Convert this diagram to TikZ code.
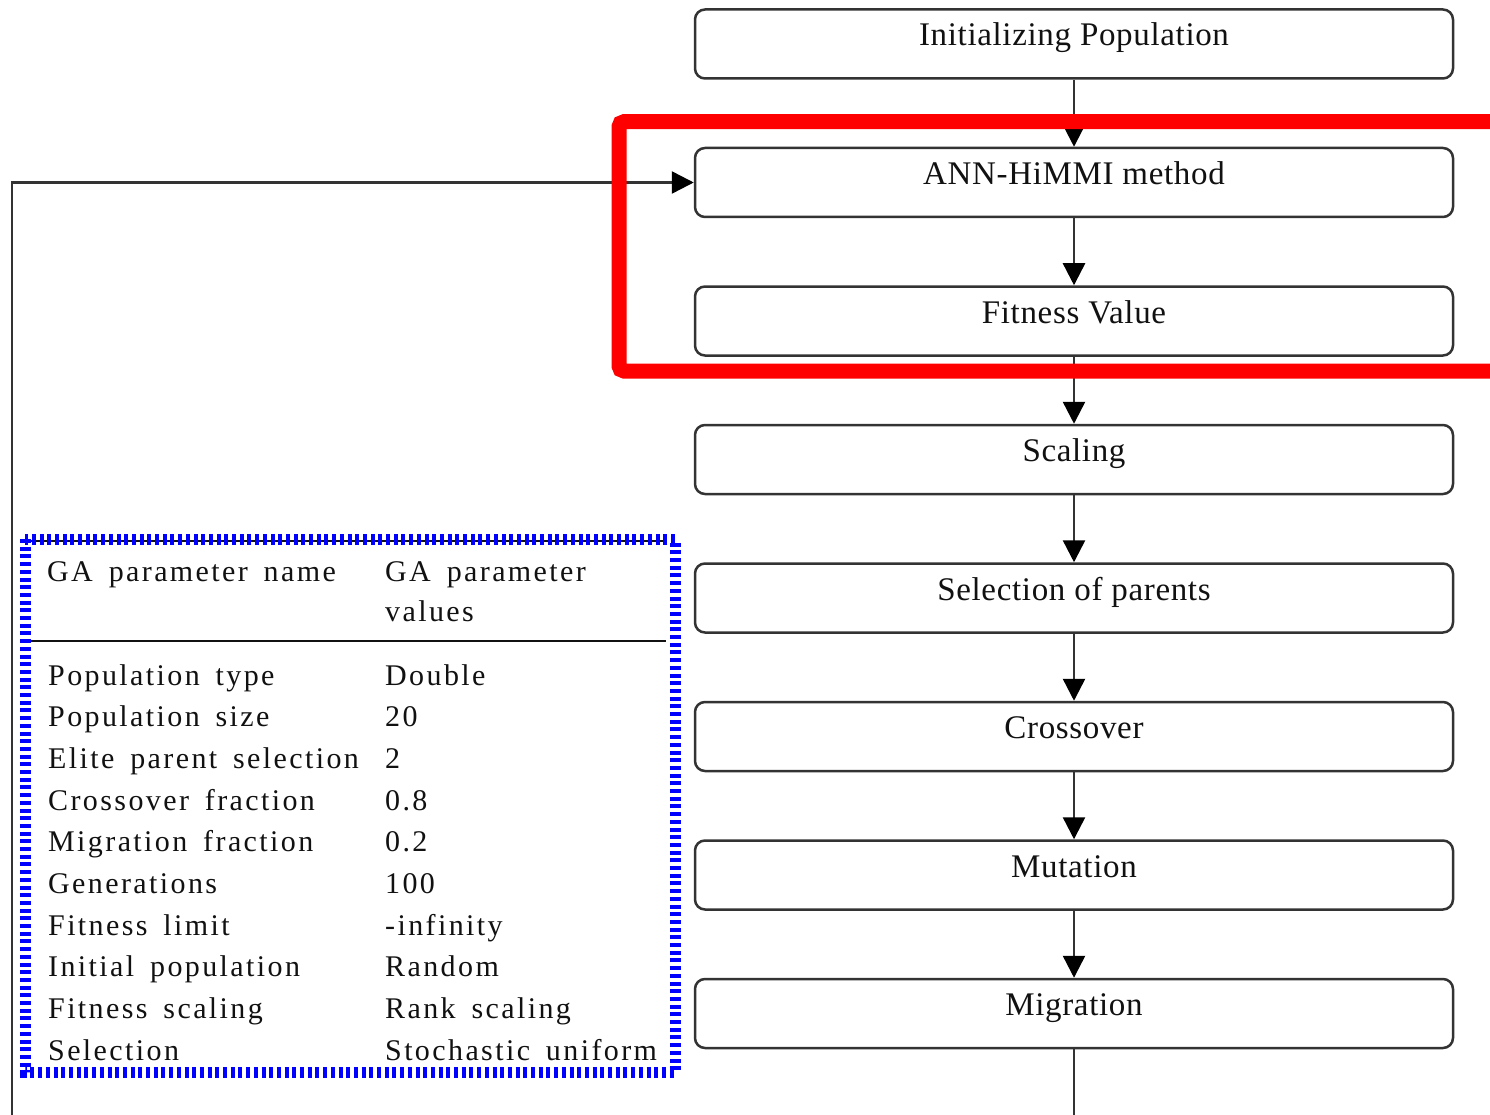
\documentclass[tikz,border=0pt]{standalone}
\usepackage{fontspec}
\setmainfont{Liberation Serif}
\newfontfamily\boxfont[LetterSpace=2]{Liberation Serif}
\newfontfamily\tabfont[LetterSpace=8,WordSpace=1.6]{Liberation Serif}
\usetikzlibrary{arrows.meta}
\definecolor{edgegray}{HTML}{333333}
\definecolor{inkblack}{HTML}{111111}
\tikzset{
  stage/.style={draw=edgegray, line width=2.5pt, rounded corners=10pt,
    minimum width=758pt, minimum height=69pt, inner sep=0pt,
    text height=12pt, text depth=8pt, text=inkblack,
    font=\boxfont\fontsize{33}{40}\selectfont},
  conn/.style={draw=edgegray, line width=2.5pt,
    -{Triangle[length=22pt,width=22pt,color=black]}},
  plainline/.style={draw=edgegray, line width=2.5pt},
  cell/.style={anchor=base west, inner sep=0pt, text=inkblack,
    font=\tabfont\fontsize{30}{36}\selectfont},
  rule/.style={draw=inkblack, line width=2pt},
  highlight/.style={draw=red, line width=15pt, rounded corners=5pt},
  tableframe/.style={draw=blue, line width=11pt, dash pattern=on 4pt off 3.7pt}
}
\begin{document}
\begin{tikzpicture}[x=1pt, y=-1pt]
\useasboundingbox[fill=white] (0,0) rectangle (1490,1115);

% GA flow stages
\node[stage] (b1) at (1074,44)    {Initializing Population};
\node[stage] (b2) at (1074,182.5) {ANN-HiMMI method};
\node[stage] (b3) at (1074,321)   {Fitness Value};
\node[stage] (b4) at (1074,459.5) {Scaling};
\node[stage] (b5) at (1074,598)   {Selection of parents};
\node[stage] (b6) at (1074,736.5) {Crossover};
\node[stage] (b7) at (1074,875)   {Mutation};
\node[stage] (b8) at (1074,1013.5){Migration};

% stage-to-stage connectors
\draw[conn] (b1.south) -- (b2.north);
\draw[conn] (b2.south) -- (b3.north);
\draw[conn] (b3.south) -- (b4.north);
\draw[conn] (b4.south) -- (b5.north);
\draw[conn] (b5.south) -- (b6.north);
\draw[conn] (b6.south) -- (b7.north);
\draw[conn] (b7.south) -- (b8.north);

% outgoing line and feedback loop
\coordinate (tail) at (1074,1115);
\draw[plainline] (b8.south) -- (tail);
\coordinate (fbstart) at (12,1115);
\coordinate (fbcorner) at (12,182.5);
\draw[conn] (fbstart) -- (fbcorner) -- (b2.west);

% parameter table
\draw[rule] (30,540.5) -- (666,540.5);
\draw[rule] (30,640.5) -- (666,640.5);
\node[cell] (h1) at (47,581.7) {GA parameter name};
\node[cell] (h2) at (385,581.7) {GA parameter};
\node[cell] (h3) at (385,621.7) {values};

\node[cell] (n1)  at (48,685)    {Population type};
\node[cell] (n2)  at (48,726.7)  {Population size};
\node[cell] (n3)  at (48,768.3)  {Elite parent selection};
\node[cell] (n4)  at (48,810)    {Crossover fraction};
\node[cell] (n5)  at (48,851.7)  {Migration fraction};
\node[cell] (n6)  at (48,893.3)  {Generations};
\node[cell] (n7)  at (48,935)    {Fitness limit};
\node[cell] (n8)  at (48,976.7)  {Initial population};
\node[cell] (n9)  at (48,1018.3) {Fitness scaling};
\node[cell] (n10) at (48,1060)   {Selection};

\node[cell] (v1)  at (385,685)    {Double};
\node[cell] (v2)  at (385,726.7)  {20};
\node[cell] (v3)  at (385,768.3)  {2};
\node[cell] (v4)  at (385,810)    {0.8};
\node[cell] (v5)  at (385,851.7)  {0.2};
\node[cell] (v6)  at (385,893.3)  {100};
\node[cell] (v7)  at (385,935)    {-infinity};
\node[cell] (v8)  at (385,976.7)  {Random};
\node[cell] (v9)  at (385,1018.3) {Rank scaling};
\node[cell] (v10) at (385,1060)   {Stochastic uniform};

% dotted frame round the table
\draw[tableframe] (25,539) rectangle (675,1072.5);

% highlight round the evaluation stages
\draw[highlight] (1490,121.7) -- (619,121.7) -- (619,371) -- (1490,371);
\end{tikzpicture}
\end{document}
